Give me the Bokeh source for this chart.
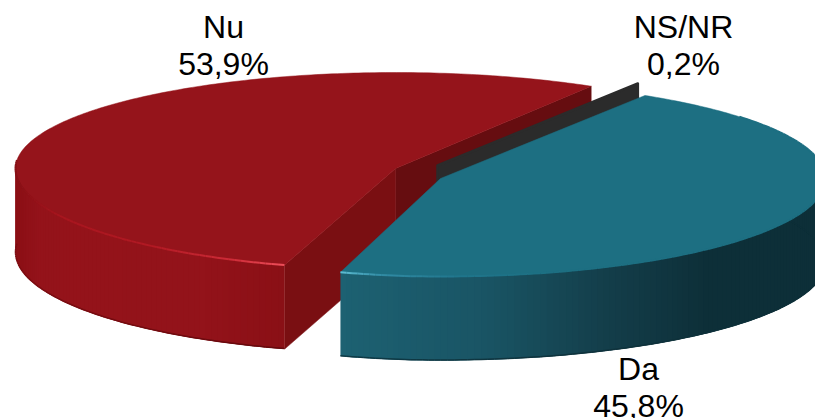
import numpy as np
from bokeh.embed import file_html
from bokeh.models import ColumnDataSource, Range1d
from bokeh.plotting import figure
from bokeh.resources import INLINE
from bokeh.core.properties import value

categories = ["Nu", "Da", "NS/NR"]
shares = [53.9, 45.8, 0.2]

START = 59.0
DEPTH = 84.0
# cx, cy, x-radius right, x-radius left, y-radius back, y-radius front
GEOM = {
    "Nu": (395.0, 168.0, 380.0, 380.0, 96.0, 101.0),
    "Da": (440.0, 178.0, 385.0, 343.0, 98.0, 98.0),
    "NS/NR": (437.0, 165.0, 385.0, 385.0, 96.0, 96.0),
}
TOP = {"Nu": "#95141b", "Da": "#1d6f82", "NS/NR": "#333333"}
LABEL_POS = {"Nu": (223, 26, 63), "Da": (638, 368, 405), "NS/NR": (683, 26, 63)}

p = figure(width=815, height=418, output_backend="svg", toolbar_location=None,
           x_range=Range1d(0, 815), y_range=Range1d(418, 0),
           min_border=0, outline_line_color=None, background_fill_color="white")
p.axis.visible = False
p.grid.visible = False


def rim(name, t):
    cx, cy, a_r, a_l, b_back, b_front = GEOM[name]
    s, co = np.sin(t), np.cos(t)
    return cx + np.where(co > 0, a_r, a_l) * co, cy + np.where(s > 0, b_front, b_back) * s


def hexes(x, stops_x, stops_rgb):
    rgb = np.array(stops_rgb, dtype=float)
    ch = [np.interp(x, stops_x, rgb[:, i]) for i in range(3)]
    return ["#%02x%02x%02x" % (int(r), int(g), int(b)) for r, g, b in zip(*ch)]


spans = {}
cur = START
for c, v in zip(categories, shares):
    spans[c] = (cur, cur + v * 3.6)
    cur += v * 3.6


def param(deg):
    return -np.radians(deg)


def outer_wall(name, stops_x, stops_rgb, lo, hi):
    t = param(np.arange(lo, hi + 0.01, 1.0))
    x, y = rim(name, t)
    cols = hexes(x[:-1], stops_x, stops_rgb)
    n = len(x) - 1
    nxt = [min(i + 2, n) for i in range(n)]
    xs = [[x[i], x[j], x[j], x[i]] for i, j in enumerate(nxt)]
    ys = [[y[i], y[j], y[j] + DEPTH, y[i] + DEPTH] for i, j in enumerate(nxt)]
    src = ColumnDataSource(dict(xs=xs, ys=ys, c=cols))
    p.patches("xs", "ys", source=src, fill_color="c", line_color=None)
    return x, y


def rim_line(x, y, stops_x, stops_rgb, width):
    cols = hexes((x[:-1] + x[1:]) / 2, stops_x, stops_rgb)
    xs = [[x[i], x[i + 1]] for i in range(len(x) - 1)]
    ys = [[y[i], y[i + 1]] for i in range(len(x) - 1)]
    p.multi_line("xs", "ys", source=ColumnDataSource(dict(xs=xs, ys=ys, c=cols)),
                 line_color="c", line_width=width)


def top_face(name):
    a0, a1 = spans[name]
    cx, cy = GEOM[name][:2]
    x, y = rim(name, param(np.linspace(a0, a1, 240)))
    p.patch(np.r_[cx, x], np.r_[cy, y], fill_color=TOP[name], line_color=TOP[name], line_width=0.5)


def cut_face(name, deg, color, width=0.5):
    cx, cy = GEOM[name][:2]
    x, y = rim(name, param(np.array([deg])))
    p.patch([cx, x[0], x[0], cx], [cy, y[0], y[0] + DEPTH, cy + DEPTH],
            fill_color=color, line_color=color, line_width=width, line_join="round")


# --- Nu ---
a0, a1 = spans["Nu"]
cut_face("Nu", a0, "#660d10")
cut_face("Nu", a1, "#7a0f12")
x, y = outer_wall("Nu", [16, 40, 200, 285], [(140, 16, 22), (149, 19, 27), (147, 19, 26), (138, 16, 22)], 175, a1)
rim_line(x, y + DEPTH - 0.5, [16, 285], [(125, 13, 18), (100, 9, 13)], 1.5)
top_face("Nu")
rim_line(x, y, [16, 60, 150, 230, 285], [(135, 16, 22), (168, 22, 31), (178, 26, 36), (205, 44, 56), (240, 80, 92)], 2.0)

# --- NS/NR ---
b0, b1 = spans["NS/NR"]
cut_face("NS/NR", b1, "#2b2b2b", 2.5)

# --- Da ---
c0, c1 = spans["Da"]
x, y = outer_wall("Da", [340, 480, 600, 700, 815],
                  [(29, 97, 114), (26, 85, 101), (20, 63, 75), (14, 48, 57), (13, 47, 56)], c0, 400)
rim_line(x, y + DEPTH - 0.5, [340, 520, 815], [(14, 58, 70), (16, 52, 62), (13, 47, 56)], 1.5)
top_face("Da")
rim_line(x, y, [340, 380, 460, 560], [(95, 190, 212), (50, 140, 165), (32, 118, 140), (29, 111, 130)], 2.0)

# --- labels ---
for c, v in zip(categories, shares):
    lx, y1, y2 = LABEL_POS[c]
    pct = f"{v:.1f}".replace(".", ",") + "%"
    for txt, ty in ((c, y1), (pct, y2)):
        p.text(x=[lx], y=[ty], text=[txt], text_font=value("Liberation Sans"),
               text_font_size="32px", text_color="#000000",
               text_align="center", text_baseline="middle")

open("out.html", "w").write(file_html(p, INLINE))
